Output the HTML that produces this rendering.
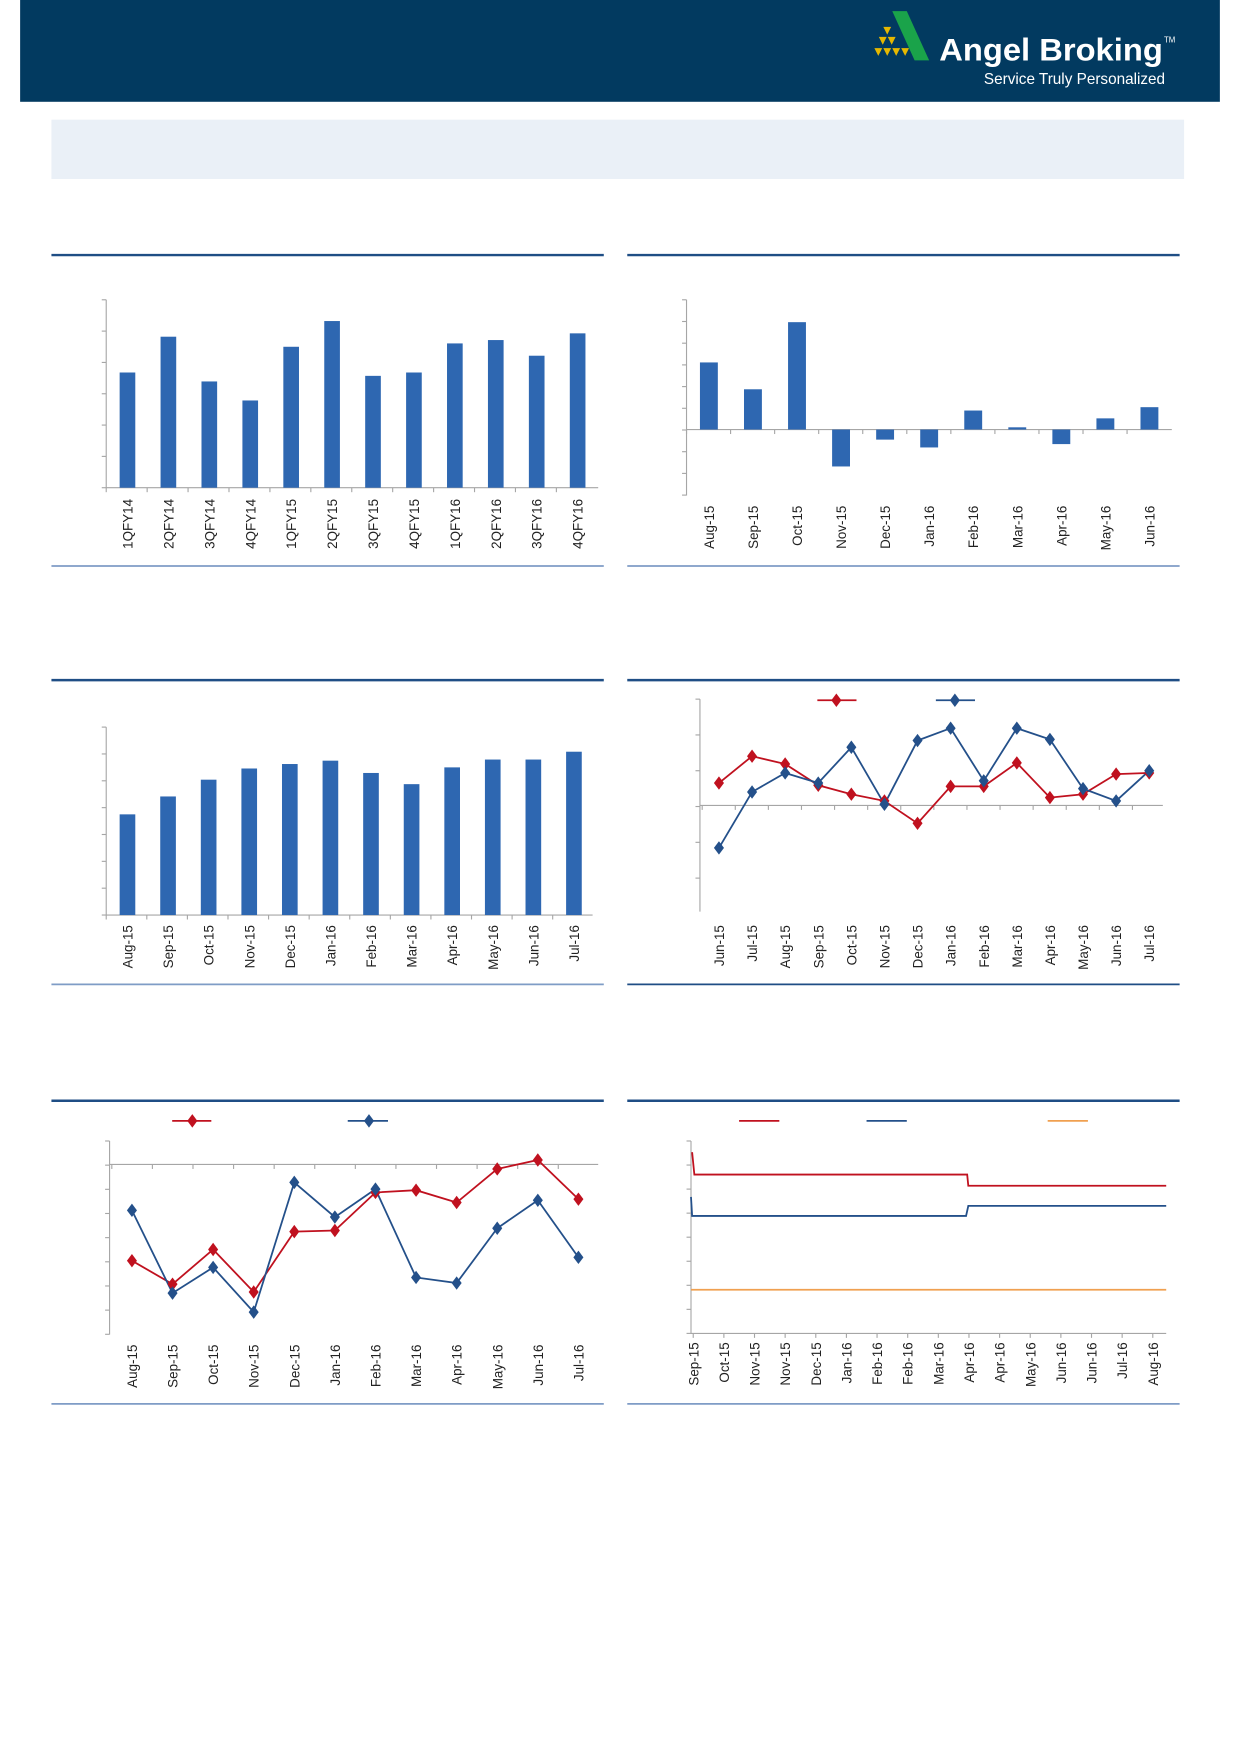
<!DOCTYPE html>
<html><head><meta charset="utf-8"><style>
html,body{margin:0;padding:0;background:#fff;width:1240px;height:1754px;overflow:hidden}
svg{display:block}
text{font-family:"Liberation Sans",sans-serif}
</style></head><body>
<svg id="s" width="1240" height="1754" viewBox="0 0 1109 1568" preserveAspectRatio="none" xmlns="http://www.w3.org/2000/svg">
<rect x="18" y="0" width="1073" height="91" fill="#023a60"/>
<polygon points="798,10 811,10 831,54 818,54" fill="#1aa34a"/>
<g fill="#e6b800">
<polygon points="790,24 797,24 793.5,31"/>
<polygon points="786,33 793,33 789.5,40"/><polygon points="794,33 801,33 797.5,40"/>
<polygon points="782,43 789,43 785.5,50"/><polygon points="790,43 797,43 793.5,50"/><polygon points="798,43 805,43 801.5,50"/><polygon points="806,43 813,43 809.5,50"/>
</g>
<text x="840" y="54" font-size="28" font-weight="bold" fill="#fff" textLength="200" lengthAdjust="spacingAndGlyphs">Angel Broking</text>
<text x="1041" y="38" font-size="7" fill="#fff">TM</text>
<text x="880" y="75" font-size="14" fill="#fff" textLength="162" lengthAdjust="spacingAndGlyphs">Service Truly Personalized</text>
<rect x="46" y="107" width="1013" height="53" fill="#eaf0f7"/>
<g id="g"></g>
</svg>
<script>
var g=document.getElementById('g'),h='';
function L(x1,y1,x2,y2,c,w){h+='<line x1="'+x1+'" y1="'+y1+'" x2="'+x2+'" y2="'+y2+'" stroke="'+c+'" stroke-width="'+w+'"/>';}
function T(x,y,t){h+='<text transform="translate('+(x+4.5)+','+y+') rotate(-90)" text-anchor="end" font-size="12" fill="#222">'+t+'</text>';}
function D(x,y,c){h+='<polygon points="'+x+','+(y-6)+' '+(x+4.5)+','+y+' '+x+','+(y+6)+' '+(x-4.5)+','+y+'" fill="'+c+'"/>';}
var AX='#a6a6a6',DB='#1f4e85',LB='#7f9cc6',BAR='#2e67b1',RED='#c0111f',BLU='#24508a',OR='#f0a050';
[[228,506],[608,880],[984,1255]].forEach(function(r){L(46,r[0],540,r[0],DB,2.2);L(561,r[0],1055,r[0],DB,2.2);L(46,r[1],540,r[1],LB,1.5);L(561,r[1],1055,r[1],r[1]==880?DB:LB,1.5);});
L(95,268,95,436,AX,1);L(95,436,535,436,AX,1);
for(var y=268;y<=436;y+=28)L(91,y,95,y,AX,1);
var q=['1QFY14','2QFY14','3QFY14','4QFY14','1QFY15','2QFY15','3QFY15','4QFY15','1QFY16','2QFY16','3QFY16','4QFY16'];
var t1=[333,301,341,358,310,287,336,333,307,304,318,298];
for(var i=0;i<12;i++){var x=114+i*36.6;h+='<rect x="'+(x-7)+'" y="'+t1[i]+'" width="14" height="'+(436-t1[i])+'" fill="'+BAR+'"/>';L(95+i*36.6,436,95+i*36.6,440,AX,1);T(x,446,q[i]);}
L(614,268,614,443,AX,1);L(614,384,1048,384,AX,1);
for(var y=268;y<=443;y+=19.4)L(610,y,614,y,AX,1);
var m2=['Aug-15','Sep-15','Oct-15','Nov-15','Dec-15','Jan-16','Feb-16','Mar-16','Apr-16','May-16','Jun-16'];
var t2=[324,348,288,417,393,400,367,382,397,374,364];
for(var i=0;i<11;i++){var x=634+i*39.4,y=t2[i];var a=Math.min(y,384),b=Math.max(y,384);h+='<rect x="'+(x-8)+'" y="'+a+'" width="16" height="'+(b-a)+'" fill="'+BAR+'"/>';L(614+i*39.4,384,614+i*39.4,388,AX,1);T(x,452,m2[i]);}
L(95,650,95,818,AX,1);L(95,818,530,818,AX,1);
for(var y=650;y<=818;y+=24)L(91,y,95,y,AX,1);
var m3=['Aug-15','Sep-15','Oct-15','Nov-15','Dec-15','Jan-16','Feb-16','Mar-16','Apr-16','May-16','Jun-16','Jul-16'];
var t3=[728,712,697,687,683,680,691,701,686,679,679,672];
for(var i=0;i<12;i++){var x=114+i*36.3;h+='<rect x="'+(x-7)+'" y="'+t3[i]+'" width="14" height="'+(818-t3[i])+'" fill="'+BAR+'"/>';L(95+i*36.3,818,95+i*36.3,822,AX,1);T(x,827,m3[i]);}
L(626,625,626,815,AX,1);L(626,720,1040,720,AX,1);
for(var y=625;y<=815;y+=32)L(622,y,626,y,AX,1);
var m4=['Jun-15','Jul-15','Aug-15','Sep-15','Oct-15','Nov-15','Dec-15','Jan-16','Feb-16','Mar-16','Apr-16','May-16','Jun-16','Jul-16'];
var r4=[700,676,683,702,710,716,736,703,703,682,713,710,692,691],b4=[758,708,691,700,668,719,662,651,698,651,661,705,716,689];
function P(xs,ys,c){h+='<polyline fill="none" stroke="'+c+'" stroke-width="1.6" points="'+xs.map(function(x,i){return x+','+ys[i]}).join(' ')+'"/>';}
var x4=m4.map(function(_,i){return 643+i*29.6});
for(var i=0;i<14;i++){L(628+i*29.6,720,628+i*29.6,724,AX,1);T(x4[i],827,m4[i]);}
P(x4,r4,RED);P(x4,b4,BLU);x4.forEach(function(x,i){D(x,r4[i],RED)});x4.forEach(function(x,i){D(x,b4[i],BLU)});
L(731,626,766,626,RED,1.6);D(748,626,RED);L(837,626,872,626,BLU,1.6);D(854,626,BLU);
L(98,1020,98,1193,AX,1);L(98,1041,535,1041,AX,1);
for(var y=1020;y<=1193;y+=21.6)L(94,y,98,y,AX,1);
var x5=m3.map(function(_,i){return 118+i*36.3});
var r5=[1127,1148,1117,1155,1101,1100,1066,1064,1075,1045,1037,1072],b5=[1082,1156,1133,1173,1057,1088,1063,1142,1147,1098,1073,1124];
for(var i=0;i<12;i++){L(100+i*36.3,1041,100+i*36.3,1045,AX,1);T(x5[i],1202,m3[i]);}
P(x5,r5,RED);P(x5,b5,BLU);x5.forEach(function(x,i){D(x,r5[i],RED)});x5.forEach(function(x,i){D(x,b5[i],BLU)});
L(154,1002,189,1002,RED,1.6);D(172,1002,RED);L(311,1002,347,1002,BLU,1.6);D(330,1002,BLU);
L(618,1020,618,1192,AX,1);L(618,1192,1043,1192,AX,1);
for(var y=1020;y<=1192;y+=21.5)L(614,y,618,y,AX,1);
var m6=['Sep-15','Oct-15','Nov-15','Nov-15','Dec-15','Jan-16','Feb-16','Feb-16','Mar-16','Apr-16','Apr-16','May-16','Jun-16','Jun-16','Jul-16','Aug-16'];
for(var i=0;i<16;i++){var x=620+i*27.4;L(x,1192,x,1196,AX,1);T(x,1200,m6[i]);}
h+='<polyline fill="none" stroke="'+RED+'" stroke-width="1.6" points="619,1030 621,1050 865,1050 866,1060 1043,1060"/>';
h+='<polyline fill="none" stroke="'+BLU+'" stroke-width="1.6" points="618,1070 619,1087 864,1087 866,1078 1043,1078"/>';
L(618,1153,1043,1153,OR,1.6);
L(661,1002,697,1002,RED,1.6);L(775,1002,811,1002,BLU,1.6);L(937,1002,973,1002,OR,1.6);
g.innerHTML=h;
</script>
</body></html>
